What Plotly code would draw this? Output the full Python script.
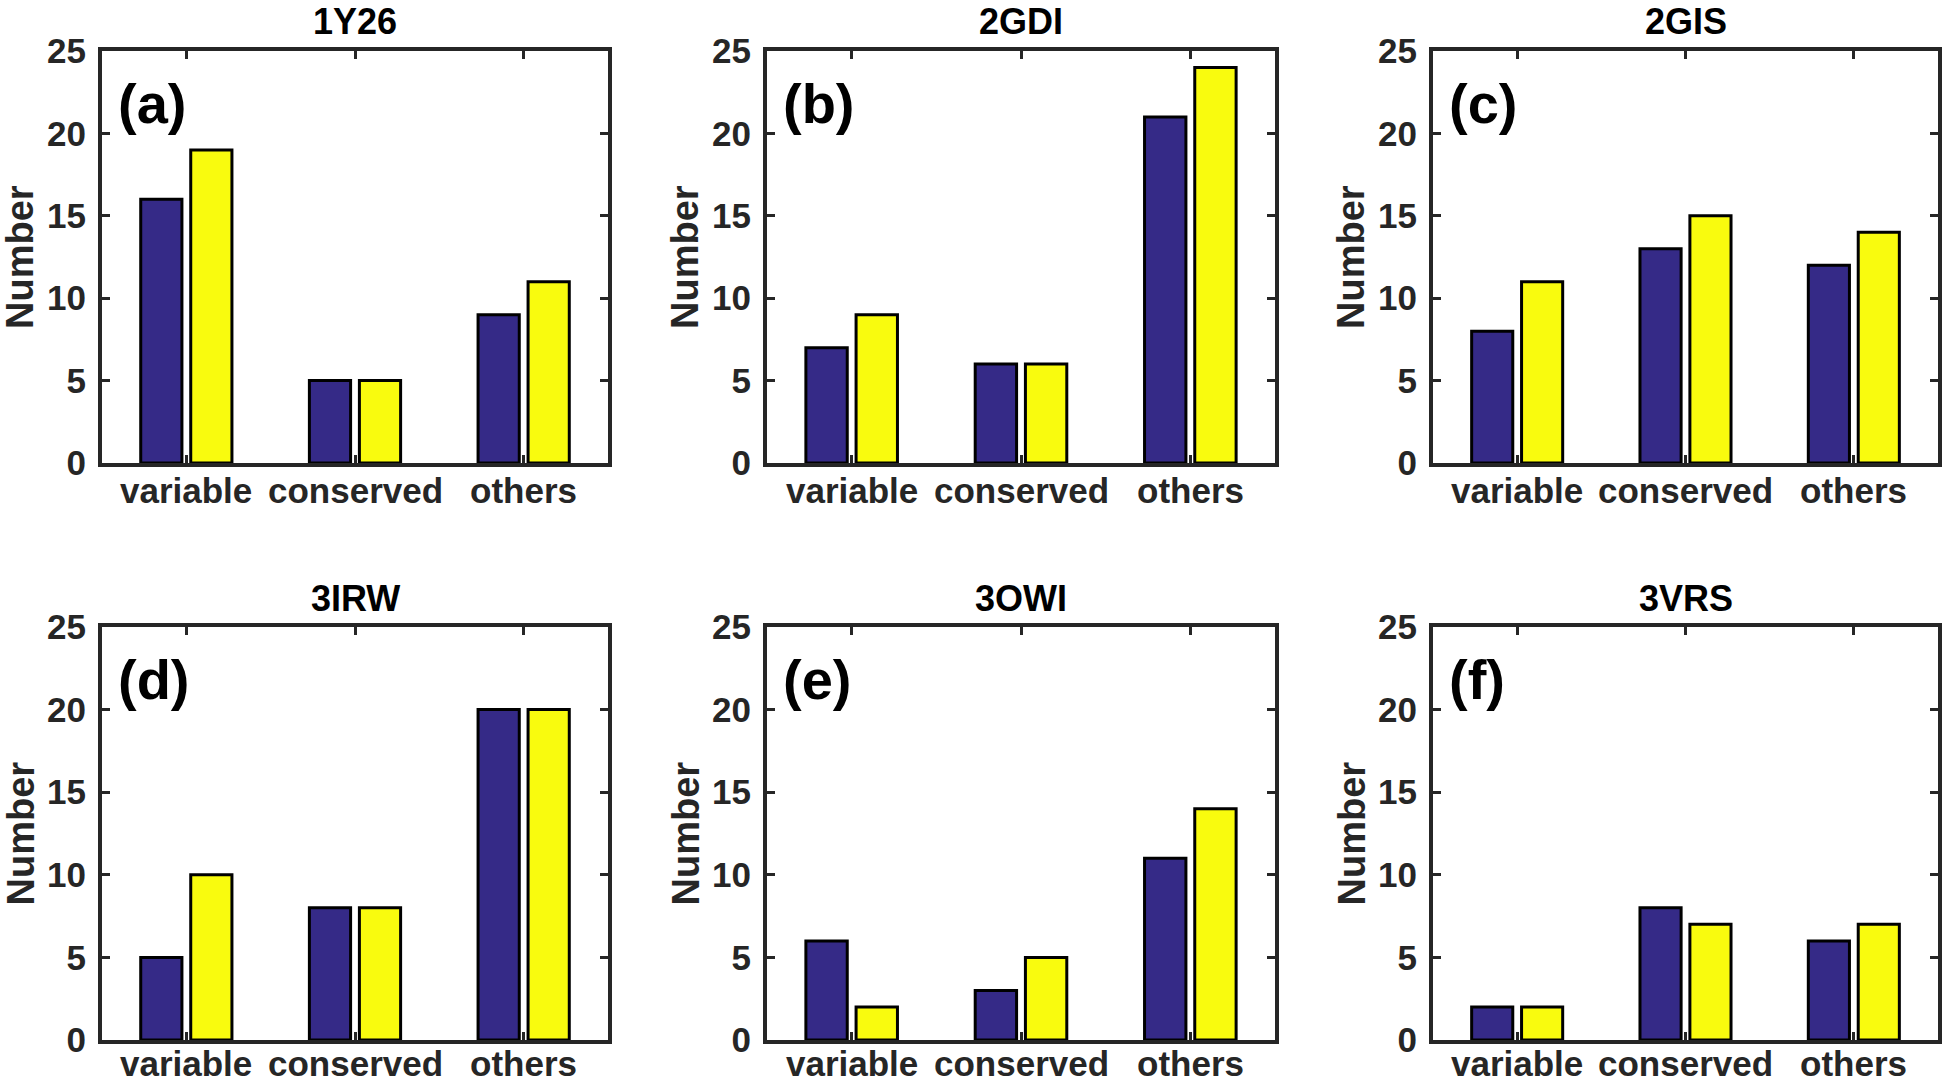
import plotly.graph_objects as go

categories = ["variable", "conserved", "others"]
titles = ["1Y26", "2GDI", "2GIS", "3IRW", "3OWI", "3VRS"]
panel_labels = ["(a)", "(b)", "(c)", "(d)", "(e)", "(f)"]
blue_values = [
    [16, 5, 9],
    [7, 6, 21],
    [8, 13, 12],
    [5, 8, 20],
    [6, 3, 11],
    [2, 8, 6],
]
yellow_values = [
    [19, 5, 11],
    [9, 6, 24],
    [11, 15, 14],
    [10, 8, 20],
    [2, 5, 14],
    [2, 7, 7],
]
y_ticks = [0, 5, 10, 15, 20, 25]

W, H = 1946, 1085
BLUE = "#352A87"
YELLOW = "#F9FB0E"
AX = "#262626"
FONT = "Liberation Sans, Arial, Helvetica, sans-serif"

col_px = [(102, 608), (767, 1275), (1433, 1938)]
row_px = [(51, 463), (627, 1040)]
label_shift = [-27, -23]

fig = go.Figure()
annotations = []
for i in range(6):
    r, c = divmod(i, 3)
    xa = "x" if i == 0 else f"x{i+1}"
    ya = "y" if i == 0 else f"y{i+1}"
    xkey = "xaxis" if i == 0 else f"xaxis{i+1}"
    ykey = "yaxis" if i == 0 else f"yaxis{i+1}"
    x0, x1 = col_px[c]
    t0, b0 = row_px[r]
    fig.add_trace(go.Bar(x=categories, y=blue_values[i], xaxis=xa, yaxis=ya,
                         marker=dict(color=BLUE, line=dict(color="black", width=3)),
                         showlegend=False, hoverinfo="skip"))
    fig.add_trace(go.Bar(x=categories, y=yellow_values[i], xaxis=xa, yaxis=ya,
                         marker=dict(color=YELLOW, line=dict(color="black", width=3)),
                         showlegend=False, hoverinfo="skip"))
    fig.layout[xkey] = dict(
        domain=[x0 / W, x1 / W], anchor=ya, type="category", automargin=False,
        range=[-0.5, 2.5], showline=True, linewidth=4, linecolor=AX,
        mirror="ticks", ticks="inside", ticklen=8, tickwidth=3, tickcolor=AX,
        showgrid=False, zeroline=False, showticklabels=False,
        fixedrange=True,
    )
    fig.layout[ykey] = dict(
        domain=[1 - b0 / H, 1 - t0 / H], anchor=xa, automargin=False,
        range=[0, 25], tickvals=y_ticks, showline=True, linewidth=4, linecolor=AX,
        mirror="ticks", ticks="inside", ticklen=8, tickwidth=3, tickcolor=AX,
        showgrid=False, zeroline=False, ticklabelstandoff=5,
        tickfont=dict(family=FONT, size=35, color=AX, weight="bold"),
        fixedrange=True,
    )
    # x tick labels (category names) placed just below the axis
    for cat in categories:
        annotations.append(dict(text=cat, xref=xa, yref=f"{ya} domain",
                                x=cat, y=0, xanchor="center", yanchor="middle",
                                yshift=label_shift[r], showarrow=False,
                                font=dict(family=FONT, size=35, color=AX, weight="bold")))
    # subplot title
    annotations.append(dict(text=titles[i], xref="paper", yref="paper",
                            x=(x0 + x1) / 2 / W, y=1 - (t0 - 29) / H,
                            xanchor="center", yanchor="middle", showarrow=False,
                            font=dict(family=FONT, size=36, color="black", weight="bold")))
    # y-axis title
    annotations.append(dict(text="Number", xref="paper", yref="paper",
                            x=(x0 - 82) / W, y=1 - (t0 + b0) / 2 / H,
                            xanchor="center", yanchor="middle", textangle=-90,
                            showarrow=False,
                            font=dict(family=FONT, size=38, color=AX, weight="bold")))
    # panel label
    annotations.append(dict(text=panel_labels[i], xref=f"{xa} domain", yref=f"{ya} domain",
                            x=0.028, y=0.872, xanchor="left", yanchor="middle",
                            showarrow=False,
                            font=dict(family=FONT, size=56, color="black", weight="bold")))

fig.update_layout(
    width=W, height=H, margin=dict(l=0, r=0, t=0, b=0, autoexpand=False),
    paper_bgcolor="white", plot_bgcolor="white",
    barmode="group", bargap=0.407, bargroupgap=0.176,
    annotations=annotations, showlegend=False,
)

fig.write_html("out.html", config={"displayModeBar": False},
               post_script="document.body.style.margin='0';document.body.style.overflow='hidden';")
